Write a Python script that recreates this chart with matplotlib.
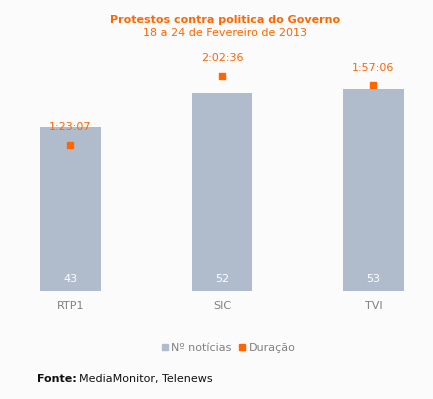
import matplotlib
matplotlib.use("Agg")
import matplotlib.pyplot as plt
from matplotlib.lines import Line2D

channels = ["RTP1", "SIC", "TVI"]
n_noticias = [43, 52, 53]
duracao_labels = ["1:23:07", "2:02:36", "1:57:06"]


def to_seconds(s):
    h, m, sec = [int(p) for p in s.split(":")]
    return h * 3600 + m * 60 + sec


duracao = [to_seconds(s) for s in duracao_labels]

orange = "#FF6600"
bar_color = "#B0BCCB"
bg = "#FBFBFB"
W, H = 433, 399

plt.rcParams["font.family"] = "DejaVu Sans"
fig = plt.figure(figsize=(W / 100, H / 100), dpi=100, facecolor=bg)

# axes placed so that baseline sits at ~291 px from top
top_px, base_px = 40, 290.7
ax = fig.add_axes([0, (H - base_px) / H, 1, (base_px - top_px) / H])
ax.set_facecolor("none")
x = list(range(len(channels)))
ax.bar(x, n_noticias, width=0.40, color=bar_color)
ax.set_xlim(-0.465, 2.393)
ax.set_ylim(0, (base_px - top_px) / 3.81)
ax.axis("off")

for xi, v in zip(x, n_noticias):
    ax.text(xi, 1.8, str(v), color="white", ha="center", va="bottom", fontsize=8)
    ax.text(xi, -2.6, channels[xi], color="#808080", ha="center", va="top", fontsize=8)

ax2 = ax.twinx()
ax2.set_ylim(0, (base_px - top_px) * 34.2)
ax2.axis("off")
ax2.plot(x, duracao, linestyle="None", marker="s", markersize=5, color=orange)
for xi, v, lab in zip(x, duracao, duracao_labels):
    ax2.annotate(lab, (xi, v), xytext=(0, 9), textcoords="offset points",
                 ha="center", va="bottom", color=orange, fontsize=8)

fig.text(0.52, (H - 20) / H, "Protestos contra politica do Governo", color=orange,
         fontsize=8, fontweight="bold", ha="center", va="center")
fig.text(0.52, (H - 33) / H, "18 a 24 de Fevereiro de 2013", color=orange,
         fontsize=8, ha="center", va="center")

handles = [Line2D([], [], linestyle="None", marker="s", markersize=5, color=bar_color),
           Line2D([], [], linestyle="None", marker="s", markersize=4, color=orange)]
fig.legend(handles, ["Nº notícias", "Duração"], loc="center",
           bbox_to_anchor=(0.525, (H - 348) / H), ncol=2, frameon=False,
           fontsize=8, labelcolor="#808080", handletextpad=0.05,
           columnspacing=0.5, handlelength=1.0)

fig.text(37 / W, (H - 379) / H, "Fonte:", fontsize=8, fontweight="bold",
         ha="left", va="center", color="#111111")
fig.text(79 / W, (H - 379) / H, "MediaMonitor, Telenews",
         fontsize=8, ha="left", va="center", color="#111111")

fig.savefig("out.png", dpi=100, facecolor=bg)
